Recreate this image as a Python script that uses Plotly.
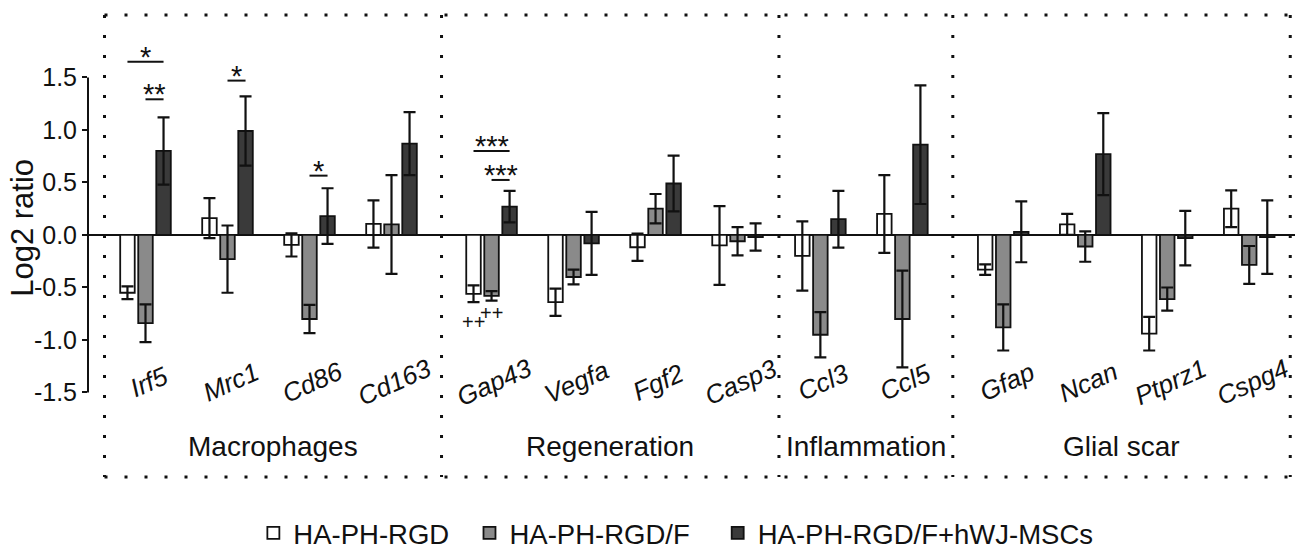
import plotly.graph_objects as go

# ---------------- data ----------------
genes = ["Irf5", "Mrc1", "Cd86", "Cd163", "Gap43", "Vegfa", "Fgf2", "Casp3",
         "Ccl3", "Ccl5", "Gfap", "Ncan", "Ptprz1", "Cspg4"]
gene_group = [0, 0, 0, 0, 1, 1, 1, 1, 2, 2, 3, 3, 3, 3]
groups = ["Macrophages", "Regeneration", "Inflammation", "Glial scar"]
series_names = ["HA-PH-RGD", "HA-PH-RGD/F", "HA-PH-RGD/F+hWJ-MSCs"]

vals_rgd = [-0.55, 0.16, -0.095, 0.105, -0.56, -0.64, -0.117, -0.10, -0.20, 0.20, -0.33, 0.10, -0.94, 0.25]
err_rgd = [0.06, 0.19, 0.11, 0.225, 0.08, 0.13, 0.13, 0.375, 0.33, 0.37, 0.05, 0.10, 0.16, 0.175]
vals_f = [-0.84, -0.23, -0.80, 0.10, -0.58, -0.40, 0.25, -0.06, -0.95, -0.80, -0.88, -0.11, -0.61, -0.285]
err_f = [0.18, 0.32, 0.135, 0.47, 0.045, 0.07, 0.14, 0.135, 0.215, 0.46, 0.22, 0.145, 0.11, 0.18]
vals_msc = [0.80, 0.99, 0.18, 0.87, 0.27, -0.08, 0.49, -0.02, 0.15, 0.86, 0.03, 0.77, -0.03, -0.02]
err_msc = [0.32, 0.33, 0.265, 0.30, 0.15, 0.30, 0.265, 0.13, 0.27, 0.565, 0.29, 0.39, 0.26, 0.35]

# significance: (gene, from series, to series, bracket level, label)
sig_brackets = [("Irf5", 0, 2, 1.65, "*"), ("Irf5", 1, 2, 1.292, "**"),
                ("Mrc1", 1, 2, 1.47, "*"), ("Cd86", 1, 2, 0.565, "*"),
                ("Gap43", 0, 2, 0.80, "***"), ("Gap43", 1, 2, 0.524, "***")]
plus_marks = [("Gap43", 0, -0.826, "++"), ("Gap43", 1, -0.743, "++")]

tick_vals = [-1.5, -1.0, -0.5, 0.0, 0.5, 1.0, 1.5]
tick_text = ["-1.5", "-1.0", "-0.5", "0.0", "0.5", "1.0", "1.5"]

# ---------------- layout constants ----------------
group_offset = [0.0, 0.22, 0.23, 0.46]
BARGAP = 0.34
slot = (1 - BARGAP) / 3
xpos = [i + group_offset[g] for i, g in enumerate(gene_group)]
series_shift = [(k - 1) * slot for k in range(3)]
colors = ["#ffffff", "#8a8a8a", "#3a3a3a"]
legend_pad = ["\u00a0\u00a0", "\u00a0\u00a0\u00a0", ""]
FONT = "Liberation Sans, Arial, sans-serif"
INK = "#111111"

fig = go.Figure()
for name, pad, v, e, c in zip(series_names, legend_pad, [vals_rgd, vals_f, vals_msc],
                              [err_rgd, err_f, err_msc], colors):
    fig.add_trace(go.Bar(
        x=xpos, y=v, name=name + pad,
        marker=dict(color=c, line=dict(color=INK, width=1.8)),
        error_y=dict(type="data", array=e, visible=True, color=INK,
                     thickness=2.2, width=6),
    ))

shapes = []
dot = dict(color=INK, width=3, dash="3px,17px")
# group boundaries
bounds = [xpos[0] - 0.5]
for g in range(len(groups) - 1):
    last = max(xpos[i] for i in range(len(genes)) if gene_group[i] == g)
    first = min(xpos[i] for i in range(len(genes)) if gene_group[i] == g + 1)
    bounds.append((last + first) / 2)
bounds.append(xpos[-1] + 0.5)
Y_TOP, Y_BOT = 2.095, -2.305
for b in bounds:
    shapes.append(dict(type="line", xref="x", yref="y", x0=b, x1=b, y0=Y_TOP, y1=Y_BOT, line=dot))
shapes.append(dict(type="line", xref="x", yref="y", x0=bounds[0], x1=bounds[-1], y0=Y_TOP, y1=Y_TOP, line=dot))
shapes.append(dict(type="line", xref="x", yref="y", x0=bounds[0], x1=bounds[-1], y0=Y_BOT, y1=Y_BOT, line=dot))
# y axis line (only from -1.5 to 1.5)
shapes.append(dict(type="line", xref="paper", yref="y", x0=0, x1=0, y0=tick_vals[0], y1=tick_vals[-1],
                   line=dict(color=INK, width=2)))

annotations = []
# gene labels
for g, x in zip(genes, xpos):
    annotations.append(dict(x=x + 0.04, y=-1.40, xref="x", yref="y", text="<i>%s</i>" % g,
                            showarrow=False, textangle=-24, xanchor="center", yanchor="middle",
                            font=dict(family=FONT, size=26, color=INK)))
# group labels
for gi, gname in enumerate(groups):
    annotations.append(dict(x=(bounds[gi] + bounds[gi + 1]) / 2, y=-2.01, xref="x", yref="y",
                            text=gname, showarrow=False, xanchor="center", yanchor="middle",
                            font=dict(family=FONT, size=28, color=INK)))
# significance brackets
gidx = {g: i for i, g in enumerate(genes)}
for gene, s0, s1, lev, lab in sig_brackets:
    xa = xpos[gidx[gene]] + series_shift[s0]
    xb = xpos[gidx[gene]] + series_shift[s1]
    shapes.append(dict(type="line", xref="x", yref="y", x0=xa, x1=xb, y0=lev, y1=lev,
                       line=dict(color=INK, width=2)))
    annotations.append(dict(x=(xa + xb) / 2, y=lev, xref="x", yref="y", text=lab,
                            showarrow=False, xanchor="center", yanchor="bottom", yshift=-13,
                            font=dict(family=FONT, size=29, color=INK)))
for gene, s, lev, lab in plus_marks:
    annotations.append(dict(x=xpos[gidx[gene]] + series_shift[s], y=lev, xref="x", yref="y",
                            text=lab, showarrow=False, xanchor="center", yanchor="middle",
                            font=dict(family=FONT, size=20, color=INK)))
# y axis title
annotations.append(dict(x=-0.0545, y=0.07, xref="paper", yref="y", text="Log2 ratio",
                        showarrow=False, textangle=-90, xanchor="center", yanchor="middle",
                        font=dict(family=FONT, size=31, color=INK)))

fig.update_layout(
    width=1297, height=549,
    margin=dict(l=88, r=2, t=5, b=64, autoexpand=False),
    paper_bgcolor="white", plot_bgcolor="white",
    barmode="group", bargap=BARGAP, bargroupgap=0.195,
    showlegend=True,
    legend=dict(orientation="h", x=0.137, xanchor="left", y=-0.1, yanchor="middle",
                font=dict(family=FONT, size=27.5, color=INK), traceorder="normal"),
    shapes=shapes, annotations=annotations,
    font=dict(family=FONT, color=INK),
)
fig.update_xaxes(range=[-0.7012, 14.018], showticklabels=False, showgrid=False,
                 zeroline=False, showline=False, ticks="")
fig.update_yaxes(range=[-2.381, 2.190], tickvals=tick_vals, ticktext=tick_text,
                 ticks="outside", ticklen=5, tickwidth=2, tickcolor=INK,
                 showgrid=False, showline=False,
                 zeroline=True, zerolinecolor=INK, zerolinewidth=2,
                 tickfont=dict(family=FONT, size=25, color=INK))

fig.write_html("out.html")
